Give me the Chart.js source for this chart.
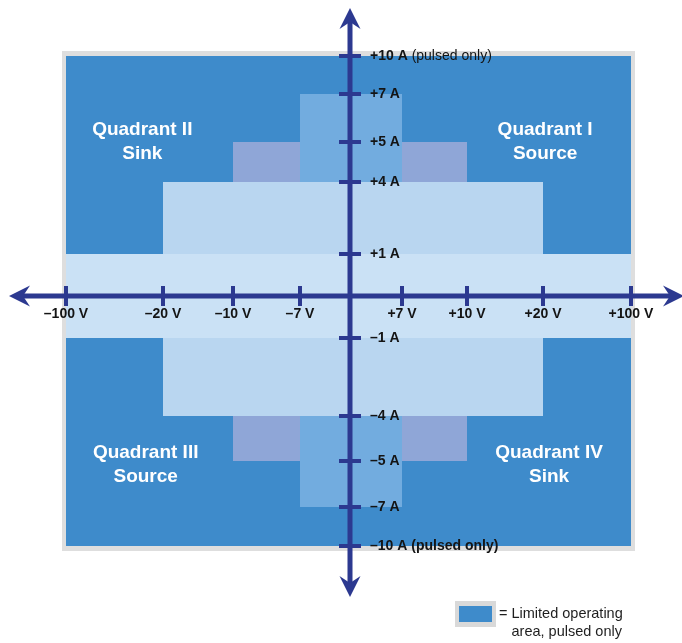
<!DOCTYPE html>
<html><head><meta charset="utf-8">
<script src="https://cdn.jsdelivr.net/npm/chart.js@4/dist/chart.umd.min.js"></script>
<style>html,body{margin:0;padding:0;background:#fff}canvas{display:block}</style>
</head><body>
<canvas id="c" width="682" height="643"></canvas>
<script>
// ---- data ----
const voltageTicks = [-100, -20, -10, -7, 7, 10, 20, 100];
const voltageTickLabels = ['–100 V', '–20 V', '–10 V', '–7 V', '+7 V', '+10 V', '+20 V', '+100 V'];
const currentTicks = [10, 7, 5, 4, 1, -1, -4, -5, -7, -10];
const currentTickLabels = ['+10 A', '+7 A', '+5 A', '+4 A', '+1 A', '–1 A', '–4 A', '–5 A', '–7 A', '–10 A'];
const currentTickNotes = [' (pulsed only)', '', '', '', '', '', '', '', '', ' (pulsed only)'];
const currentNoteBold = [false, false, false, false, false, false, false, false, false, true];
const regionNames = ['±100 V / ±10 A (pulsed only)', '±10 V / ±5 A', '±7 V / ±7 A', '±20 V / ±4 A', '±100 V / ±1 A'];
const regionVoltage = [100, 10, 7, 20, 100];
const regionCurrent = [10, 5, 7, 4, 1];
const quadrantTitles = ['Quadrant I', 'Quadrant II', 'Quadrant III', 'Quadrant IV'];
const quadrantRoles = ['Source', 'Sink', 'Source', 'Sink'];
const legendLines = ['= Limited operating', 'area, pulsed only'];

// ---- style ----
const regionColors = ['#3e8bcb', '#8fa6d7', '#72acdf', '#b9d6f0', '#cae1f5'];
const axisColor = '#2c3990';

// piecewise-linear scale for the non-uniform axes
class PiecewiseScale extends Chart.LinearScale {
  _toDecimal(v) {
    const b = this.options.breaks, w = this.options.weights;
    const total = w.reduce((a, c) => a + c, 0);
    let acc = 0;
    for (let i = 0; i < w.length; i++) {
      if (v <= b[i + 1] || i === w.length - 1) {
        return (acc + (v - b[i]) / (b[i + 1] - b[i]) * w[i]) / total;
      }
      acc += w[i];
    }
    return 1;
  }
  getPixelForValue(v) { return this.getPixelForDecimal(this._toDecimal(v)); }
  getValueForPixel(p) {
    const d = this.getDecimalForPixel(p);
    const b = this.options.breaks, w = this.options.weights;
    const total = w.reduce((a, c) => a + c, 0);
    let acc = 0;
    for (let i = 0; i < w.length; i++) {
      const f = w[i] / total;
      if (d <= acc + f || i === w.length - 1) return b[i] + (d - acc) / f * (b[i + 1] - b[i]);
      acc += f;
    }
  }
}
PiecewiseScale.id = 'piecewise';
PiecewiseScale.defaults = Chart.LinearScale.defaults;
Chart.register(PiecewiseScale);

const datasets = regionNames.map((name, i) => {
  const v = regionVoltage[i], a = regionCurrent[i];
  return {
    label: name,
    data: [{x: -v, y: -a}, {x: -v, y: a}, {x: v, y: a}, {x: v, y: -a}, {x: -v, y: -a}],
    showLine: true,
    fill: 'shape',
    backgroundColor: regionColors[i],
    borderColor: 'rgba(0,0,0,0)',
    borderWidth: 0,
    pointRadius: 0,
    tension: 0,
    order: regionNames.length - i
  };
});

function arrow(ctx, tx, ty, dx, dy) {
  const L = 21, H = 10.5, N = 14;
  const px = -dy, py = dx;
  ctx.beginPath();
  ctx.moveTo(tx, ty);
  ctx.lineTo(tx - dx * L + px * H, ty - dy * L + py * H);
  ctx.lineTo(tx - dx * N, ty - dy * N);
  ctx.lineTo(tx - dx * L - px * H, ty - dy * L - py * H);
  ctx.closePath();
  ctx.fill();
}

const framePlugin = {
  id: 'frame',
  beforeDatasetsDraw(chart) {
    const {ctx, scales: {x, y}} = chart;
    const l = x.getPixelForValue(-regionVoltage[0]), r = x.getPixelForValue(regionVoltage[0]);
    const t = y.getPixelForValue(regionCurrent[0]), b = y.getPixelForValue(-regionCurrent[0]);
    ctx.save();
    ctx.fillStyle = '#dedede';
    ctx.fillRect(l - 4, t - 5, r - l + 8, b - t + 10);
    ctx.restore();
  }
};

const axesPlugin = {
  id: 'quadAxes',
  afterDatasetsDraw(chart) {
    const {ctx, scales: {x, y}, chartArea: ca, width} = chart;
    const x0 = x.getPixelForValue(0), y0 = y.getPixelForValue(0);
    ctx.save();
    // quadrant labels
    ctx.fillStyle = '#ffffff';
    ctx.font = 'bold 19px "Liberation Sans", Arial, sans-serif';
    ctx.textAlign = 'center';
    ctx.textBaseline = 'middle';
    const qx = [0.848, 0.135, 0.141, 0.855];
    const qy = [0.151, 0.151, 0.81, 0.81];
    quadrantTitles.forEach((t, i) => {
      const cx = ca.left + qx[i] * ca.width, cy = ca.top + qy[i] * ca.height;
      ctx.fillText(t, cx, cy);
      ctx.fillText(quadrantRoles[i], cx, cy + 24);
    });

    // axis lines
    ctx.strokeStyle = axisColor;
    ctx.fillStyle = axisColor;
    ctx.lineWidth = 5;
    ctx.beginPath();
    ctx.moveTo(16, y0); ctx.lineTo(width - 4, y0);
    ctx.moveTo(x0, 14); ctx.lineTo(x0, 590);
    ctx.stroke();
    arrow(ctx, 9, y0, -1, 0);
    arrow(ctx, width + 2, y0, 1, 0);
    arrow(ctx, x0, 8, 0, -1);
    arrow(ctx, x0, 597, 0, 1);

    // ticks
    ctx.lineWidth = 4;
    ctx.beginPath();
    voltageTicks.forEach(v => {
      const px = x.getPixelForValue(v);
      ctx.moveTo(px, y0 - 10); ctx.lineTo(px, y0 + 10);
    });
    currentTicks.forEach(a => {
      const py = y.getPixelForValue(a);
      ctx.moveTo(x0 - 11, py); ctx.lineTo(x0 + 11, py);
    });
    ctx.stroke();

    // tick labels
    const tf = '14px "Liberation Sans", Arial, sans-serif';
    ctx.fillStyle = '#141414';
    ctx.font = 'bold ' + tf;
    ctx.textAlign = 'center';
    ctx.textBaseline = 'middle';
    voltageTicks.forEach((v, i) => {
      ctx.fillText(voltageTickLabels[i], x.getPixelForValue(v), y0 + 18);
    });
    ctx.textAlign = 'left';
    currentTicks.forEach((a, i) => {
      const py = y.getPixelForValue(a);
      const lx = x0 + 20;
      ctx.font = 'bold ' + tf;
      ctx.fillText(currentTickLabels[i], lx, py);
      const w = ctx.measureText(currentTickLabels[i]).width;
      if (currentTickNotes[i]) {
        ctx.font = (currentNoteBold[i] ? 'bold ' : '') + tf;
        ctx.fillText(currentTickNotes[i], lx + w, py);
      }
    });

    // legend
    ctx.fillStyle = '#d9d9d9';
    ctx.fillRect(455, 601, 41, 26);
    ctx.fillStyle = regionColors[0];
    ctx.fillRect(459, 606, 33, 16);
    ctx.fillStyle = '#1e1e1e';
    ctx.font = '14.5px "Liberation Sans", Arial, sans-serif';
    ctx.textAlign = 'left';
    ctx.fillText(legendLines[0], 499, 614);
    const eqw = ctx.measureText('= ').width;
    ctx.fillText(legendLines[1], 499 + eqw, 632);
    ctx.restore();
  }
};

new Chart(document.getElementById('c'), {
  type: 'scatter',
  data: {datasets},
  options: {
    responsive: false,
    animation: false,
    devicePixelRatio: 1,
    layout: {padding: {left: 66, right: 51, top: 56, bottom: 97}},
    plugins: {legend: {display: false}, tooltip: {enabled: false}},
    elements: {line: {tension: 0}},
    scales: {
      x: {
        type: 'piecewise', display: false, min: -100, max: 100,
        breaks: [-100, -20, -10, -7, 0, 7, 10, 20, 100],
        weights: [97, 70, 67, 50, 52, 65, 76, 88]
      },
      y: {
        type: 'piecewise', display: false, min: -10, max: 10,
        breaks: [-10, -7, -5, -4, -1, 0, 1, 4, 5, 7, 10],
        weights: [39, 46, 45, 78, 42, 42, 72, 40, 48, 38]
      }
    }
  },
  plugins: [framePlugin, axesPlugin]
});
</script>
</body></html>
